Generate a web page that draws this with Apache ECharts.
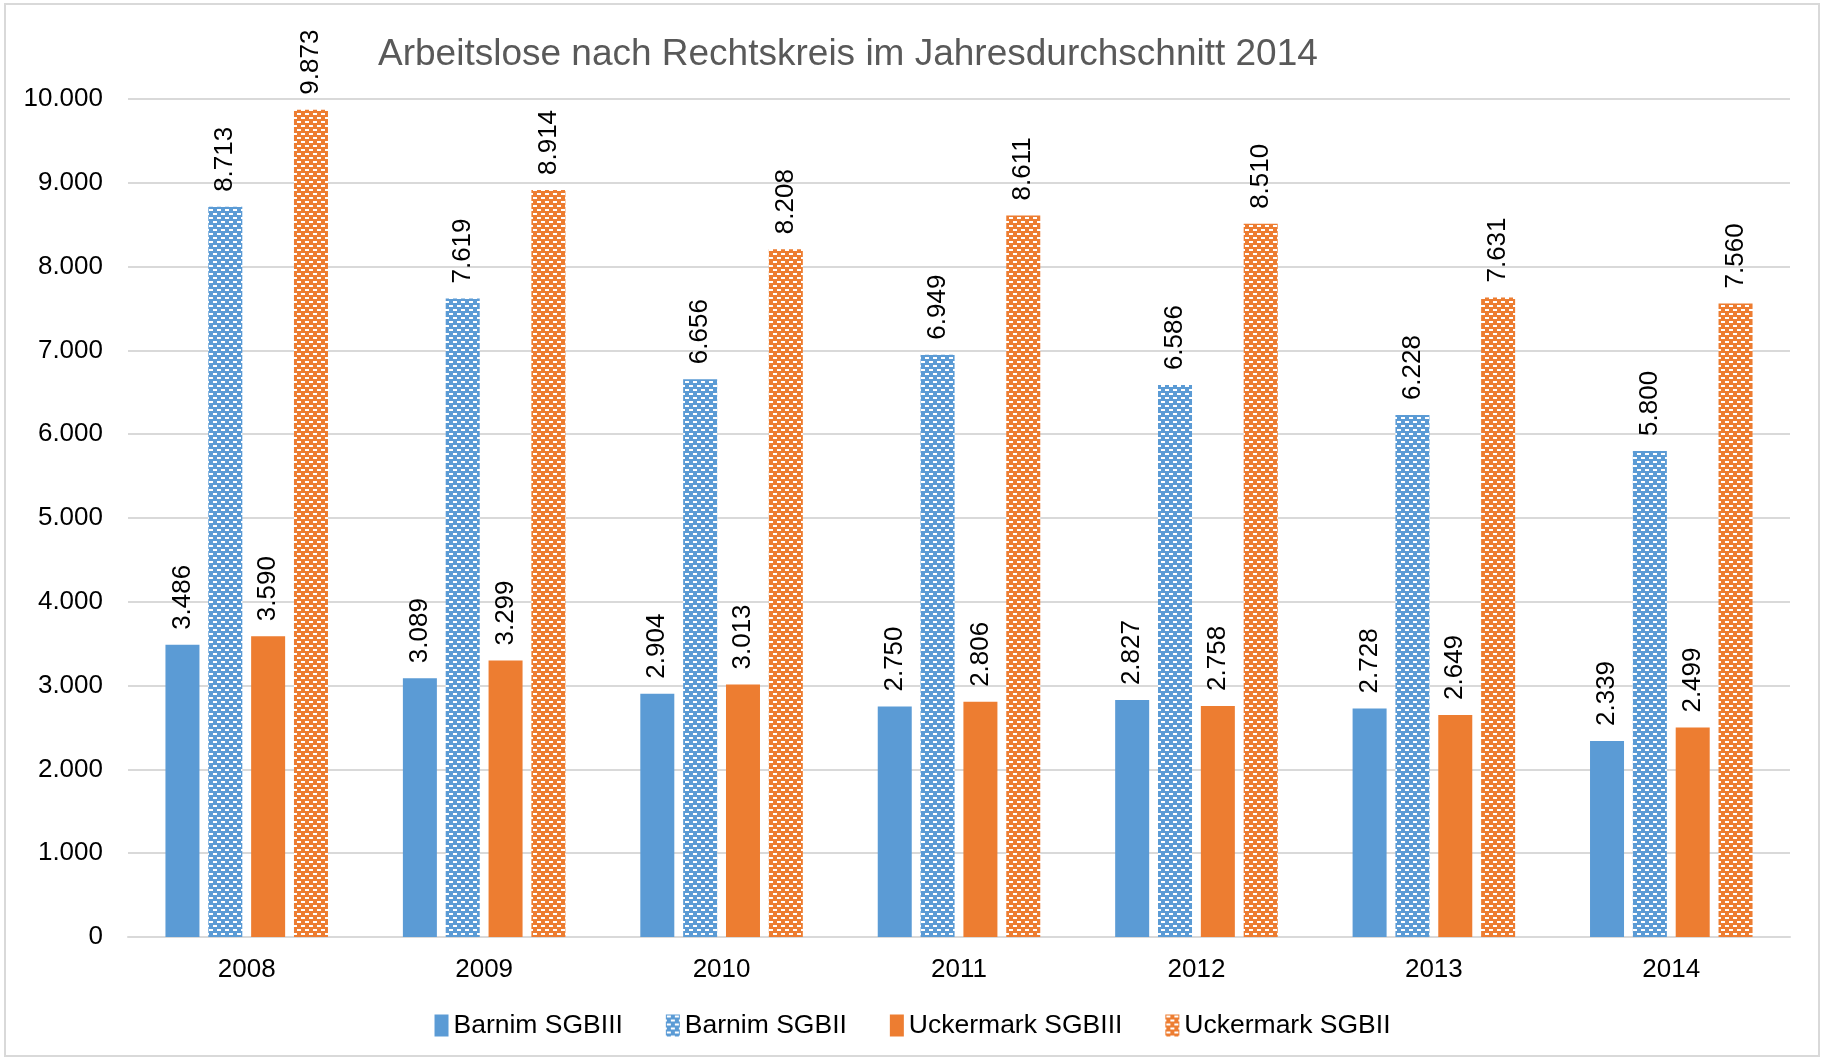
<!DOCTYPE html>
<html>
<head>
<meta charset="utf-8">
<script src="https://cdn.jsdelivr.net/npm/echarts@6/dist/echarts.min.js"></script>
<style>
  html, body { margin: 0; padding: 0; background: #fff; }
  #chart { width: 1825px; height: 1059px; }
</style>
</head>
<body>
<div id="chart"></div>
<script>
// Daten
var years = ["2008", "2009", "2010", "2011", "2012", "2013", "2014"];
var barnimSGBIII = [3486, 3089, 2904, 2750, 2827, 2728, 2339];
var barnimSGBII = [8713, 7619, 6656, 6949, 6586, 6228, 5800];
var uckermarkSGBIII = [3590, 3299, 3013, 2806, 2758, 2649, 2499];
var uckermarkSGBII = [9873, 8914, 8208, 8611, 8510, 7631, 7560];
var seriesNames = ["Barnim SGBIII", "Barnim SGBII", "Uckermark SGBIII", "Uckermark SGBII"];

var BLUE = "#5B9BD5";
var ORANGE = "#ED7D31";
var FONT = "Liberation Sans, Arial, sans-serif";

// Tausenderpunkt wie in Excel
function fmt(v) {
  return String(Math.round(v)).replace(/\B(?=(\d{3})+(?!\d))/g, ".");
}

// Ziegelmuster (weiße Striche auf Farbe)
function brick(color) {
  var c = document.createElement("canvas");
  c.width = 8;
  c.height = 8;
  var ctx = c.getContext("2d");
  ctx.fillStyle = color;
  ctx.fillRect(0, 0, 8, 8);
  ctx.fillStyle = "#fff";
  ctx.fillRect(1, 1, 4, 2);
  ctx.fillRect(5, 5, 4, 2);
  ctx.fillRect(-3, 5, 4, 2);
  return { image: c, repeat: "repeat" };
}

function barSeries(name, data, color) {
  return {
    name: name,
    type: "bar",
    data: data,
    barWidth: 34,
    barGap: "26%",
    itemStyle: { color: color },
    label: {
      show: true,
      position: "top",
      rotate: 90,
      align: "left",
      verticalAlign: "middle",
      distance: 15,
      color: "#000",
      fontSize: 26,
      fontFamily: FONT,
      formatter: function (p) { return fmt(p.value); }
    },
    animation: false
  };
}

var chart = echarts.init(document.getElementById("chart"));
chart.setOption({
  backgroundColor: "#fff",
  textStyle: { fontFamily: FONT },
  title: {
    text: "Arbeitslose nach Rechtskreis im Jahresdurchschnitt 2014",
    left: 373,
    top: 31,
    textStyle: { color: "#595959", fontSize: 37, fontWeight: "normal", fontFamily: FONT }
  },
  graphic: [{
    type: "rect",
    shape: { x: 5, y: 4, width: 1814, height: 1052 },
    style: { fill: "none", stroke: "#D9D9D9", lineWidth: 2 },
    silent: true
  }],
  legend: {
    data: seriesNames,
    bottom: 15,
    left: "center",
    itemWidth: 14,
    itemHeight: 22,
    itemGap: 43,
    icon: "rect",
    textStyle: { fontSize: 26.5, color: "#000", fontFamily: FONT }
  },
  grid: { left: 128, right: 35, top: 99, bottom: 122 },
  xAxis: {
    type: "category",
    data: years,
    axisLine: { lineStyle: { color: "#D9D9D9", width: 2 } },
    axisTick: { show: false },
    axisLabel: { color: "#000", fontSize: 26, margin: 20, fontFamily: FONT }
  },
  yAxis: {
    type: "value",
    min: 0,
    max: 10000,
    interval: 1000,
    axisLine: { show: false },
    axisTick: { show: false },
    splitLine: { lineStyle: { color: "#D9D9D9", width: 2 } },
    axisLabel: {
      color: "#000",
      fontSize: 26,
      margin: 25,
      fontFamily: FONT,
      formatter: function (v) { return fmt(v); }
    }
  },
  series: [
    barSeries(seriesNames[0], barnimSGBIII, BLUE),
    barSeries(seriesNames[1], barnimSGBII, brick(BLUE)),
    barSeries(seriesNames[2], uckermarkSGBIII, ORANGE),
    barSeries(seriesNames[3], uckermarkSGBII, brick(ORANGE))
  ]
});
</script>
</body>
</html>
